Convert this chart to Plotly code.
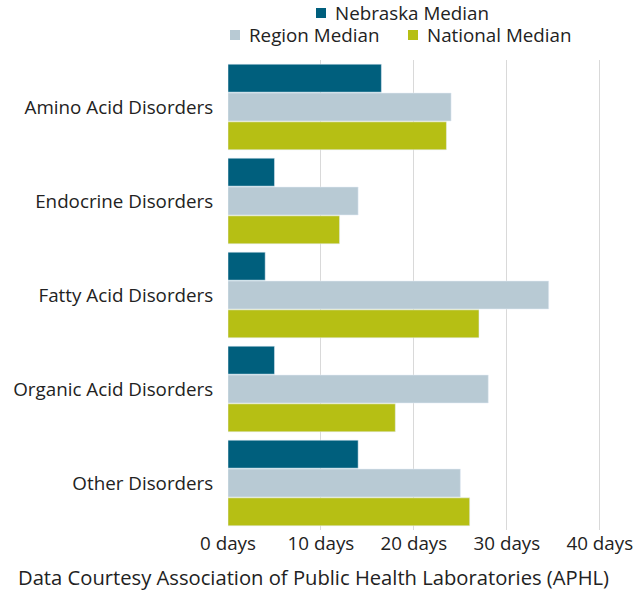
import plotly.graph_objects as go

categories = ["Amino Acid Disorders", "Endocrine Disorders", "Fatty Acid Disorders",
              "Organic Acid Disorders", "Other Disorders"]
nebraska = [16.5, 5, 4, 5, 14]
region = [24, 14, 34.5, 28, 25]
national = [23.5, 12, 27, 18, 26]
tick_vals = [0, 10, 20, 30, 40]
tick_text = ["0 days", "10 days", "20 days", "30 days", "40 days"]
series_names = ["Nebraska Median", "Region Median", "National Median"]
series_colors = ["#005f7d", "#b8cad4", "#b6bf14"]

FONT = "Open Sans"
FS = 18.8
W, H = 642, 590
L, R, T, B = 228, 5, 60, 60
PW, PH = W - L - R, H - T - B

def px(x):
    return (x - L) / PW

def py(y):
    return (H - B - y) / PH

fig = go.Figure()
for name, vals, col in zip(series_names, [nebraska, region, national], series_colors):
    fig.add_trace(go.Bar(y=categories, x=vals, name=name, orientation="h",
                         marker_color=col, showlegend=False))

# legend drawn as markers + text (two centred rows as in the reference)
legend_pos = [(316, 13, 333), (230, 35, 247), (408, 35, 425)]
shapes, annotations = [], []
for (mx, my, tx), name, col in zip(legend_pos, series_names, series_colors):
    shapes.append(dict(type="rect", xref="paper", yref="paper",
                       x0=px(mx), x1=px(mx + 10), y0=py(my + 5), y1=py(my - 5),
                       fillcolor=col, line_width=0))
    annotations.append(dict(text=name, x=px(tx), y=py(my), xref="paper", yref="paper",
                            xanchor="left", yanchor="middle", showarrow=False,
                            font=dict(size=FS, color="#222")))
annotations.append(dict(text="Data Courtesy Association of Public Health Laboratories (APHL)",
                        x=px(313), xref="paper", xanchor="center",
                        y=py(577), yref="paper", yanchor="middle", showarrow=False,
                        font=dict(size=20.2, color="#222")))

fig.update_layout(
    width=W, height=H,
    margin=dict(l=L, r=R, t=T, b=B, autoexpand=False),
    paper_bgcolor="white", plot_bgcolor="white",
    barmode="group", bargap=0.08, bargroupgap=0.03,
    font=dict(family=FONT, size=FS, color="#222"),
    showlegend=False,
    xaxis=dict(range=[0, 44], tickvals=tick_vals, ticktext=tick_text, showgrid=True,
               gridcolor="#d9d9d9", zeroline=False, ticks="", showline=False,
               tickfont=dict(size=FS, color="#222")),
    yaxis=dict(autorange="reversed", ticks="outside", ticklen=10, tickcolor="rgba(0,0,0,0)",
               showline=False, tickfont=dict(size=FS, color="#222")),
    shapes=shapes,
    annotations=annotations,
)
fig.write_html("out.html", config={"displayModeBar": False},
               post_script="document.body.style.margin='0';document.body.style.overflow='hidden';")
